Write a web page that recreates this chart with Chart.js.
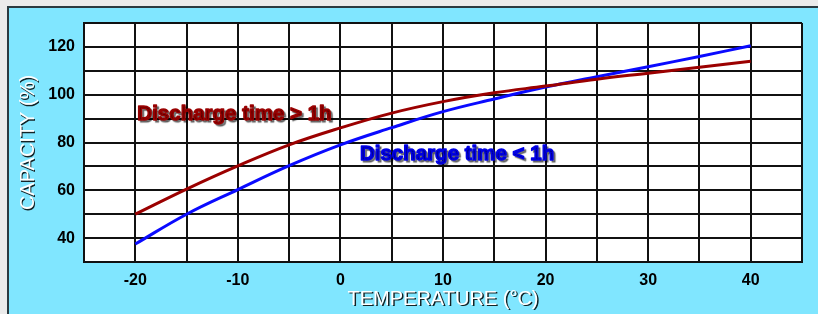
<!DOCTYPE html>
<html>
<head>
<meta charset="utf-8">
<script src="https://cdn.jsdelivr.net/npm/chart.js@4"></script>
<style>
  html, body { margin: 0; padding: 0; }
  body { width: 818px; height: 314px; background: #ebebeb; position: relative; overflow: hidden; }
  .panel { position: absolute; left: 7px; top: 6px; right: 0; bottom: 0; background: #80e6ff;
           border-left: 2px solid #2b3a40; border-top: 2px solid #2b3a40; }
  #chart { position: absolute; left: 0; top: 0; }
</style>
</head>
<body>
<div class="panel"></div>
<canvas id="chart" width="818" height="314"></canvas>
<script>
// temperature in °C
const temps = [-20, -15, -10, -5, 0, 5, 10, 15, 20, 25, 30, 35, 40];
// capacity in %, discharge time > 1h
const capLong = [50, 60.5, 70.2, 79, 86.1, 92.3, 97.1, 100.8, 103.6, 106.5, 109, 111.5, 114];
// capacity in %, discharge time < 1h
const capShort = [37.5, 50, 60.3, 70.3, 79, 86.2, 92.9, 98.2, 103.2, 107.5, 111.7, 116, 120.5];

const xTickLabels = [-20, -10, 0, 10, 20, 30, 40];
const yTickLabels = [40, 60, 80, 100, 120];

const FONT = '"Liberation Sans", Arial, sans-serif';

function toPoints(xs, ys) {
  return xs.map((x, i) => ({ x: x, y: ys[i] }));
}

// white plot area behind the grid
const plotBg = {
  id: "plotBg",
  beforeDraw(chart) {
    const a = chart.chartArea;
    const ctx = chart.ctx;
    ctx.save();
    ctx.fillStyle = "#ffffff";
    ctx.fillRect(a.left, a.top, a.right - a.left, a.bottom - a.top);
    ctx.restore();
  },
};

// heavy text with drop shadow, like the original
function heavyText(ctx, text, x, y, color) {
  ctx.fillStyle = color;
  ctx.strokeStyle = color;
  ctx.lineWidth = 1.4;
  ctx.lineJoin = "round";
  ctx.fillText(text, x, y);
  ctx.strokeText(text, x, y);
}

// curve labels and axis titles
const labels = {
  id: "labels",
  afterDraw(chart) {
    const ctx = chart.ctx;
    const xs = chart.scales.x;
    const ys = chart.scales.y;
    const a = chart.chartArea;

    ctx.save();
    ctx.font = "bold 20.5px " + FONT;
    ctx.textBaseline = "middle";
    ctx.textAlign = "left";
    ctx.shadowColor = "rgba(0,0,0,0.45)";
    ctx.shadowOffsetX = 2;
    ctx.shadowOffsetY = 2;
    ctx.shadowBlur = 1;
    heavyText(ctx, "Discharge time > 1h", xs.getPixelForValue(-19.8), ys.getPixelForValue(91.8), "#990000");
    heavyText(ctx, "Discharge time < 1h", xs.getPixelForValue(1.9), ys.getPixelForValue(75.2), "#0000e6");

    // axis titles
    ctx.font = "20px " + FONT;
    ctx.textAlign = "center";
    ctx.fillStyle = "#ffffff";
    ctx.shadowColor = "rgba(0,0,0,0.85)";
    ctx.shadowOffsetX = 1.5;
    ctx.shadowOffsetY = 1.5;
    ctx.shadowBlur = 0.5;
    ctx.fillText("TEMPERATURE (°C)", (a.left + a.right) / 2, 299);

    ctx.translate(28, (a.top + a.bottom) / 2);
    ctx.rotate(-Math.PI / 2);
    ctx.fillText("CAPACITY (%)", 0, 0);
    ctx.restore();
  },
};

new Chart(document.getElementById("chart"), {
  type: "line",
  data: {
    datasets: [
      {
        label: "Discharge time > 1h",
        data: toPoints(temps, capLong),
        borderColor: "#9b0000",
        borderWidth: 3,
        pointRadius: 0,
        tension: 0.4,
        fill: false,
      },
      {
        label: "Discharge time < 1h",
        data: toPoints(temps, capShort),
        borderColor: "#0a0aff",
        borderWidth: 3,
        pointRadius: 0,
        tension: 0.4,
        fill: false,
      },
    ],
  },
  options: {
    responsive: false,
    animation: false,
    layout: { padding: { left: 0, top: 23, right: 16, bottom: 0 } },
    plugins: {
      legend: { display: false },
      tooltip: { enabled: false },
    },
    scales: {
      x: {
        type: "linear",
        min: -25,
        max: 45,
        afterFit: (s) => { s.height = 52; },
        grid: { color: "#111", lineWidth: 2, drawTicks: false },
        border: { color: "#111", width: 2 },
        ticks: {
          stepSize: 5,
          padding: 9,
          color: "#000",
          font: { family: FONT, size: 16, weight: "bold" },
          callback: (v) => (xTickLabels.includes(v) ? String(v) : ""),
        },
      },
      y: {
        min: 30,
        max: 130,
        afterFit: (s) => { s.width = 84; },
        grid: { color: "#111", lineWidth: 2, drawTicks: false },
        border: { color: "#111", width: 2 },
        ticks: {
          stepSize: 10,
          padding: 9,
          color: "#000",
          font: { family: FONT, size: 16, weight: "bold" },
          callback: (v) => (yTickLabels.includes(v) ? String(v) : ""),
        },
      },
    },
  },
  plugins: [plotBg, labels],
});
</script>
</body>
</html>
